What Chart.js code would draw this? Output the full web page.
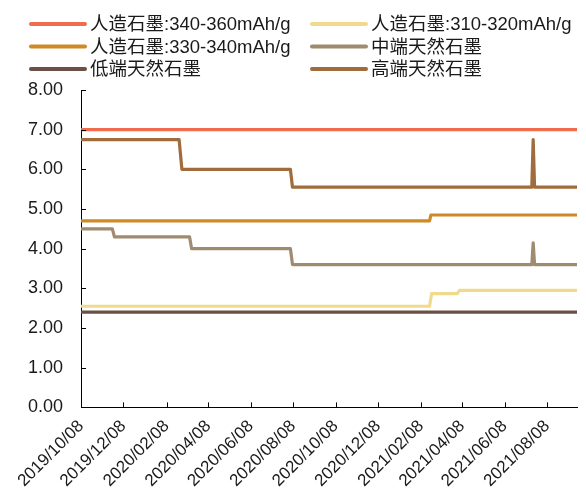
<!DOCTYPE html>
<html lang="zh-CN">
<head>
<meta charset="UTF-8">
<title>石墨价格走势</title>
<style>
  html, body { margin: 0; padding: 0; background: #fff; }
  #wrap { width: 586px; height: 495px; }
</style>
</head>
<body>
<div id="wrap"><canvas id="priceChart"></canvas></div>
<script src="https://cdn.jsdelivr.net/npm/chart.js"></script>
<script>
// 坐标轴起止与刻度
const startDate = '2019/10/08';
const endDate = '2021/09/20';
const tickLabels = ['2019/10/08', '2019/12/08', '2020/02/08', '2020/04/08', '2020/06/08', '2020/08/08',
                    '2020/10/08', '2020/12/08', '2021/02/08', '2021/04/08', '2021/06/08', '2021/08/08'];
const yTicks = [0, 1, 2, 3, 4, 5, 6, 7, 8];

// 各系列：日期 + 数值（万元/吨）
const seriesNames = ['人造石墨:340-360mAh/g', '人造石墨:310-320mAh/g', '人造石墨:330-340mAh/g',
                     '中端天然石墨', '低端天然石墨', '高端天然石墨'];

const art340Dates = ['2019/10/08', '2021/09/20'];
const art340Values = [7.0, 7.0];

const art310Dates = ['2019/10/08', '2021/02/20', '2021/02/23', '2021/04/01', '2021/04/04', '2021/09/20'];
const art310Values = [2.55, 2.55, 2.87, 2.87, 2.95, 2.95];

const art330Dates = ['2019/10/08', '2021/02/20', '2021/02/22', '2021/09/20'];
const art330Values = [4.7, 4.7, 4.85, 4.85];

const midDates = ['2019/10/08', '2019/11/22', '2019/11/25', '2020/03/12', '2020/03/15',
                  '2020/08/04', '2020/08/07', '2021/07/17', '2021/07/19', '2021/07/21', '2021/09/20'];
const midValues = [4.5, 4.5, 4.3, 4.3, 4.0, 4.0, 3.6, 3.6, 4.15, 3.6, 3.6];

const lowDates = ['2019/10/08', '2021/09/20'];
const lowValues = [2.4, 2.4];

const highDates = ['2019/10/08', '2020/02/26', '2020/03/01', '2020/08/04', '2020/08/07',
                   '2021/07/17', '2021/07/19', '2021/07/21', '2021/09/20'];
const highValues = [6.75, 6.75, 6.0, 6.0, 5.55, 5.55, 6.75, 5.55, 5.55];

const seriesColors = ['#F16C4F', '#F0DA8C', '#CD8A27', '#A08B71', '#6D5045', '#A06C3B'];

// 日期 -> 距起始日的天数
function dayOf(s) {
    const p = s.split('/').map(Number);
    const t0 = startDate.split('/').map(Number);
    return (Date.UTC(p[0], p[1] - 1, p[2]) - Date.UTC(t0[0], t0[1] - 1, t0[2])) / 86400000;
}

function toPoints(dates, values) {
    return dates.map((d, i) => ({ x: dayOf(d), y: values[i] }));
}

const allDates = [art340Dates, art310Dates, art330Dates, midDates, lowDates, highDates];
const allValues = [art340Values, art310Values, art330Values, midValues, lowValues, highValues];

const fontFamily = "'Liberation Sans', Arial, 'Noto Sans CJK SC', sans-serif";

// 两列图例
const gridLegend = {
    id: 'gridLegend',
    afterDraw(chart) {
        const ctx = chart.ctx;
        const colX = [31, 312];
        ctx.save();
        ctx.font = '18.5px ' + fontFamily;
        ctx.textBaseline = 'middle';
        ctx.fillStyle = '#1a1a1a';
        ctx.lineCap = 'round';
        ctx.lineWidth = 4;
        chart.data.datasets.forEach((ds, i) => {
            const x = colX[i % 2];
            const y = 24 + Math.floor(i / 2) * 22.5;
            ctx.strokeStyle = ds.borderColor;
            ctx.beginPath();
            ctx.moveTo(x, y);
            ctx.lineTo(x + 54, y);
            ctx.stroke();
            ctx.fillText(ds.label, x + 59, y + 1);
        });
        ctx.restore();
    }
};

// 朝内的刻度线
const innerTicks = {
    id: 'innerTicks',
    afterDraw(chart) {
        const ctx = chart.ctx;
        const xs = chart.scales.x, ys = chart.scales.y;
        ctx.save();
        ctx.strokeStyle = '#000';
        ctx.lineWidth = 1;
        ctx.beginPath();
        xs.ticks.forEach(t => {
            const px = Math.round(xs.getPixelForValue(t.value)) + 0.5;
            ctx.moveTo(px, ys.bottom);
            ctx.lineTo(px, ys.bottom - 5);
        });
        ys.ticks.forEach(t => {
            const py = Math.round(ys.getPixelForValue(t.value)) + 0.5;
            ctx.moveTo(xs.left, py);
            ctx.lineTo(xs.left + 5, py);
        });
        ctx.stroke();
        ctx.restore();
    }
};

new Chart(document.getElementById('priceChart'), {
    type: 'line',
    data: {
        datasets: seriesNames.map((name, i) => ({
            label: name,
            data: toPoints(allDates[i], allValues[i]),
            borderColor: seriesColors[i],
            backgroundColor: seriesColors[i],
            borderWidth: 3.2,
            pointRadius: 0,
            tension: 0,
            borderJoinStyle: 'round',
            borderCapStyle: 'round'
        }))
    },
    options: {
        responsive: true,
        maintainAspectRatio: false,
        animation: false,
        layout: { padding: { top: 90, right: 9, left: 10, bottom: -5 } },
        plugins: {
            legend: { display: false },
            tooltip: { enabled: false }
        },
        scales: {
            x: {
                type: 'linear',
                min: 0,
                max: dayOf(endDate),
                afterBuildTicks: axis => {
                    axis.ticks = tickLabels.map(l => ({ value: dayOf(l) }));
                },
                grid: { display: false, drawTicks: false },
                border: { display: true, color: '#000', width: 1 },
                ticks: {
                    autoSkip: false,
                    maxRotation: 45,
                    minRotation: 45,
                    padding: 9,
                    color: '#1a1a1a',
                    font: { family: fontFamily, size: 17 },
                    callback: (v, i) => tickLabels[i]
                }
            },
            y: {
                min: 0,
                max: 8,
                afterBuildTicks: axis => {
                    axis.ticks = yTicks.map(v => ({ value: v }));
                },
                grid: { display: false, drawTicks: false },
                border: { display: true, color: '#000', width: 1 },
                ticks: {
                    padding: 18,
                    color: '#1a1a1a',
                    font: { family: fontFamily, size: 18 },
                    callback: v => Number(v).toFixed(2)
                }
            }
        }
    },
    plugins: [gridLegend, innerTicks]
});
</script>
</body>
</html>
